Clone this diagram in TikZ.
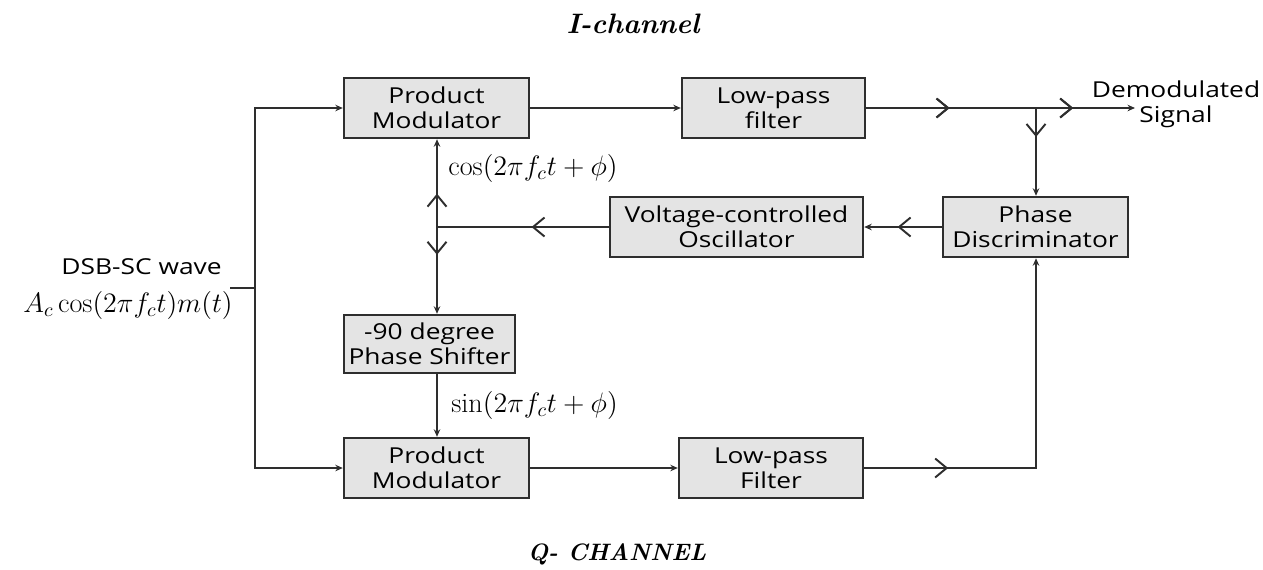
\RequirePackage{fix-cm}
\documentclass[tikz,border=0pt]{standalone}
\usepackage{amsmath}
\usepackage{fontspec}
\setsansfont{Open Sans}[FakeStretch=1.2]
\usetikzlibrary{arrows.meta, decorations.markings, calc}
\definecolor{boxgray}{HTML}{E4E4E4}
\definecolor{lineink}{HTML}{2E2E2E}

\begin{document}
\begin{tikzpicture}[x=0.02cm, y=-0.02cm,
  block/.style={draw=lineink, line width=1.4pt, fill=boxgray, align=center,
    font=\sffamily\fontsize{12.5}{14.2}\selectfont, inner sep=0pt, minimum height=1.2cm},
  wire/.style={draw=lineink, line width=1.1pt},
  intip/.style={-{Stealth[length=1.5mm,width=1.3mm]}},
  midarr/.style={postaction={decorate}, decoration={markings,
    mark=at position #1 with {\arrow{Straight Barb[length=2.3mm,width=3.8mm]}}}},
  lbl/.style={font=\sffamily\fontsize{12.5}{14.2}\selectfont, inner sep=0pt, align=center},
  sig/.style={font=\fontsize{16}{18}\selectfont, inner sep=0pt},
  title/.style={font=\fontsize{16}{18}\selectfont\bfseries\itshape, inner sep=0pt}]
\useasboundingbox (0,0) rectangle (1263,569);

% --- blocks
\node[block, minimum width=3.7cm] (pm1) at (436.5,108) {Product\\Modulator};
\node[block, minimum width=3.66cm] (lpf1) at (773.5,108) {Low-pass\\filter};
\node[block, minimum width=5.06cm] (vco) at (736.5,227) {Voltage-controlled\\Oscillator};
\node[block, minimum width=3.7cm] (pd) at (1035.5,227) {Phase\\Discriminator};
\node[block, minimum width=3.42cm, minimum height=1.16cm] (ps) at (429.5,344) {-90 degree\\Phase Shifter};
\node[block, minimum width=3.7cm] (pm2) at (436.5,468) {Product\\Modulator};
\node[block, minimum width=3.68cm] (lpf2) at (771,468) {Low-pass\\Filter};

% --- labels
\node[title] (ich) at (633,24) {I-channel};
\node[title, font=\fontsize{13.5}{16}\selectfont\bfseries\itshape] (qch) at (617,554) {Q- CHANNEL};
\node[lbl, anchor=east] (dsb) at (222,267) {DSB-SC wave};
\node[sig, anchor=east] (dsbeq) at (233,305) {$A_c\cos(2\pi f_c t)m(t)$};
\node[sig, anchor=west] (coslbl) at (448,168) {$\cos(2\pi f_c t+\phi)$};
\node[sig, anchor=west] (sinlbl) at (451,405) {$\sin(2\pi f_c t+\phi)$};
\node[lbl] (demod) at (1176,104) {Demodulated\\Signal};

% --- junction points
\coordinate (in) at (230,288);
\coordinate (bus) at (255,288);
\coordinate (vj) at (437,227);
\coordinate (split) at (1036,108);
\coordinate (out) at (1135,108);

% --- connectors
\draw[wire] (in) -- (bus);
\draw[wire, intip] (bus) |- (pm1.west);
\draw[wire, intip] (bus) |- (pm2.west);
\draw[wire, intip] (pm1) -- (lpf1);
\draw[wire, intip] (pm2) -- (lpf2);
\draw[wire, intip, midarr=0.31, midarr=0.77] (lpf1.east) -- (out);
\draw[wire, intip, midarr=0.33] (split) -- (split |- pd.north);
\draw[wire, intip, midarr=0.57] (pd.west) -- (vco.east);
\draw[wire, midarr=0.45] (vco.west) -- (vj);
\draw[wire, intip, midarr=0.38] (vj) -- (vj |- pm1.south);
\draw[wire, intip, midarr=0.32] (vj) -- (vj |- ps.north);
\draw[wire, intip] (vj |- ps.south) -- (vj |- pm2.north);
\draw[wire, intip, midarr=0.22] (lpf2.east) -| (split |- pd.south);
\end{tikzpicture}
\end{document}
